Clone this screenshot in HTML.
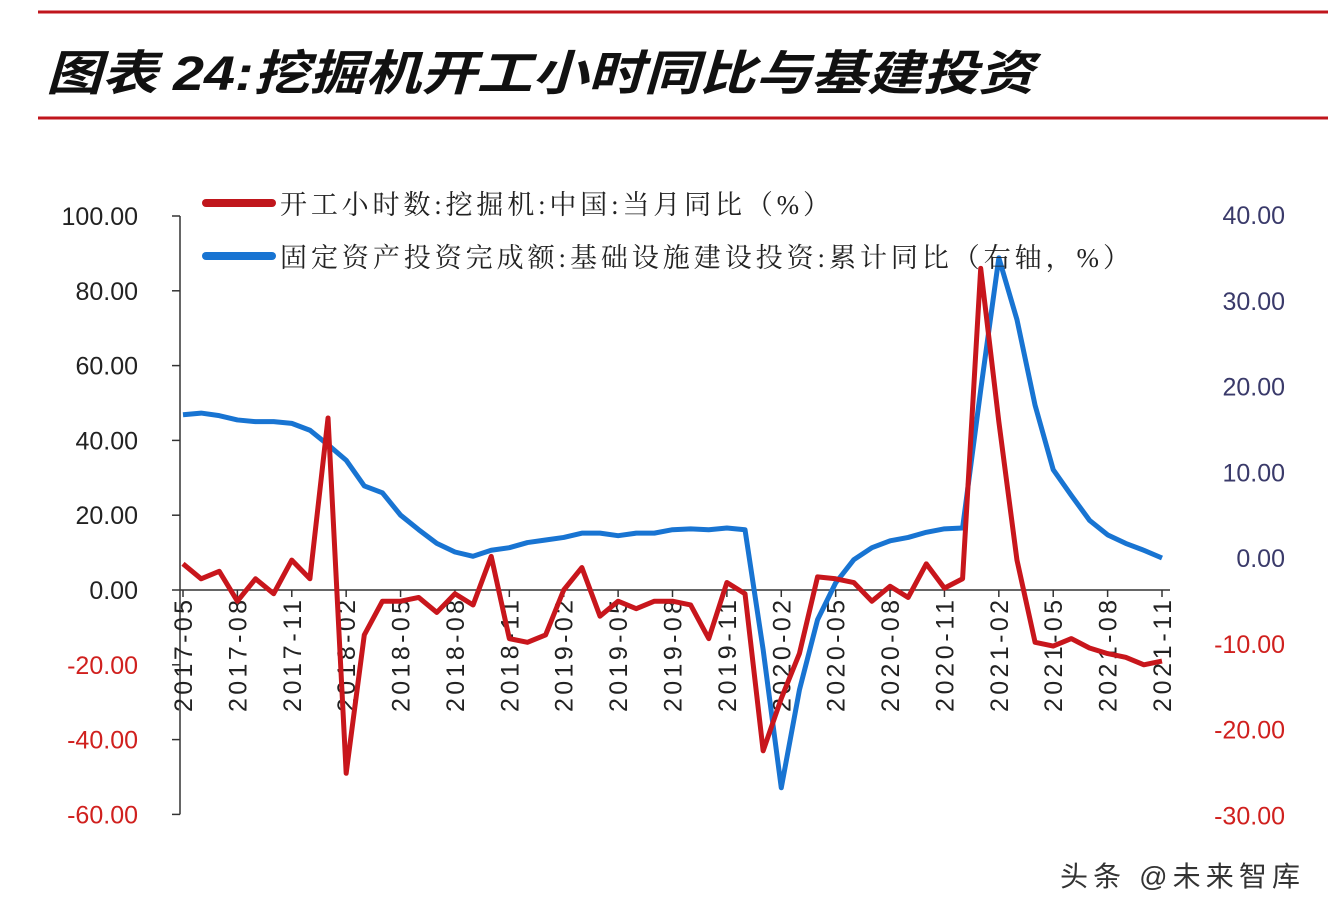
<!DOCTYPE html>
<html><head><meta charset="utf-8"><style>
html,body{margin:0;padding:0;background:#fff;width:1328px;height:918px;overflow:hidden}
svg{display:block}
</style></head><body>
<svg width="1328" height="918" xmlns="http://www.w3.org/2000/svg">
<line x1="38" y1="12" x2="1328" y2="12" stroke="#c0161c" stroke-width="3"/>
<line x1="38" y1="118" x2="1328" y2="118" stroke="#c0161c" stroke-width="3"/>
<text x="46" y="90" textLength="988" lengthAdjust="spacingAndGlyphs" font-family="'Liberation Sans','Noto Sans CJK SC',sans-serif" font-size="48" font-weight="bold" font-style="italic" fill="#111">图表 24:挖掘机开工小时同比与基建投资</text>
<g id="axes"></g>
<g id="series"></g>
<g>
<line x1="206" y1="203" x2="272" y2="203" stroke="#c0161c" stroke-width="8" stroke-linecap="round"/>
<text x="280" y="214" textLength="550" lengthAdjust="spacing" font-family="'Liberation Serif','Noto Serif CJK SC',serif" font-size="27" fill="#222">开工小时数:挖掘机:中国:当月同比（%）</text>
<line x1="206" y1="256" x2="272" y2="256" stroke="#1874d2" stroke-width="8" stroke-linecap="round"/>
<text x="280" y="267" textLength="850" lengthAdjust="spacing" font-family="'Liberation Serif','Noto Serif CJK SC',serif" font-size="27" fill="#222">固定资产投资完成额:基础设施建设投资:累计同比（右轴，%）</text>
</g>
<text x="1060" y="886" textLength="240" lengthAdjust="spacing" font-family="'Liberation Sans','Noto Sans CJK SC',sans-serif" font-size="28" fill="#333">头条 @未来智库</text>
</svg>
<script>
const excavator=[7,3,5,-3,3,-1,8,3,46,-49,-12,-3,-3,-2,-6,-1,-4,9,-13,-14,-12,0,6,-7,-3,-5,-3,-3,-4,-13,2,-1,-43,-29,-17,3.5,3,2,-3,1,-2,7,0.5,3,86,45,8,-14,-15,-13,-15.5,-17,-18,-20,-19];
const infra=[16.7,16.9,16.6,16.1,15.9,15.9,15.7,14.9,13.2,11.4,8.4,7.6,5.0,3.3,1.7,0.7,0.2,0.9,1.2,1.8,2.1,2.4,2.9,2.9,2.6,2.9,2.9,3.3,3.4,3.3,3.5,3.3,-10.7,-26.8,-15.4,-7.2,-2.9,-0.2,1.2,2.0,2.4,3.0,3.4,3.5,19.6,35,27.8,17.8,10.3,7.3,4.4,2.7,1.7,0.9,0];
const leftTicks=[100,80,60,40,20,0,-20,-40,-60];
const rightTicks=[40,30,20,10,0,-10,-20,-30];
const startYear=2017,startMonth=5;
const NS='http://www.w3.org/2000/svg';
const xOf=i=>183+i*(979/54);
const yL=v=>590-v*3.74;
const yR=v=>558-v*8.575;
function mk(tag,attrs,parent){const e=document.createElementNS(NS,tag);for(const k in attrs)e.setAttribute(k,attrs[k]);parent.appendChild(e);return e;}
const ax=document.getElementById('axes'),se=document.getElementById('series');
const font="'Liberation Sans',sans-serif";
let l=mk('line',{x1:180,y1:yL(100),x2:180,y2:yL(-60),stroke:'#333','stroke-width':1.5},ax);


leftTicks.forEach(v=>{
 const t=mk('line',{x1:172,y1:yL(v),x2:180,y2:yL(v),stroke:'#333','stroke-width':1.5},ax);
 
 
 const tx=mk('text',{x:138,y:yL(v)+9,'text-anchor':'end','font-family':font,'font-size':25,fill:v<0?'#d0201e':'#222'},ax);
 tx.textContent=v.toFixed(2);
 
 
});
rightTicks.forEach(v=>{
 const tx=mk('text',{x:1285,y:yR(v)+9,'text-anchor':'end','font-family':font,'font-size':25,fill:v<0?'#d0201e':'#3a3a6a'},ax);
 tx.textContent=v.toFixed(2);
 
 
});
let xa=mk('line',{x1:180,y1:590,x2:1170,y2:590,stroke:'#333','stroke-width':1.5},ax);


for(let i=0;i<excavator.length;i+=3){
 const m=startMonth-1+i,yr=startYear+Math.floor(m/12),mo=m%12+1;
 const x=xOf(i);
 const t=mk('line',{x1:x,y1:590,x2:x,y2:597,stroke:'#333','stroke-width':1.5},ax);
 
 
 const tx=mk('text',{x:0,y:0,'text-anchor':'end',textLength:112,lengthAdjust:'spacing','font-family':font,'font-size':25,fill:'#222',transform:`translate(${x+9},600) rotate(-90)`},ax);
 tx.textContent=yr+'-'+String(mo).padStart(2,'0');
 
 
}
const pb=mk('polyline',{points:infra.map((v,i)=>xOf(i)+','+yR(v)).join(' '),fill:'none',stroke:'#1874d2','stroke-width':5,'stroke-linejoin':'round'},se);


const pr=mk('polyline',{points:excavator.map((v,i)=>xOf(i)+','+yL(v)).join(' '),fill:'none',stroke:'#c8161c','stroke-width':5,'stroke-linejoin':'round'},se);


</script>
</body></html>
